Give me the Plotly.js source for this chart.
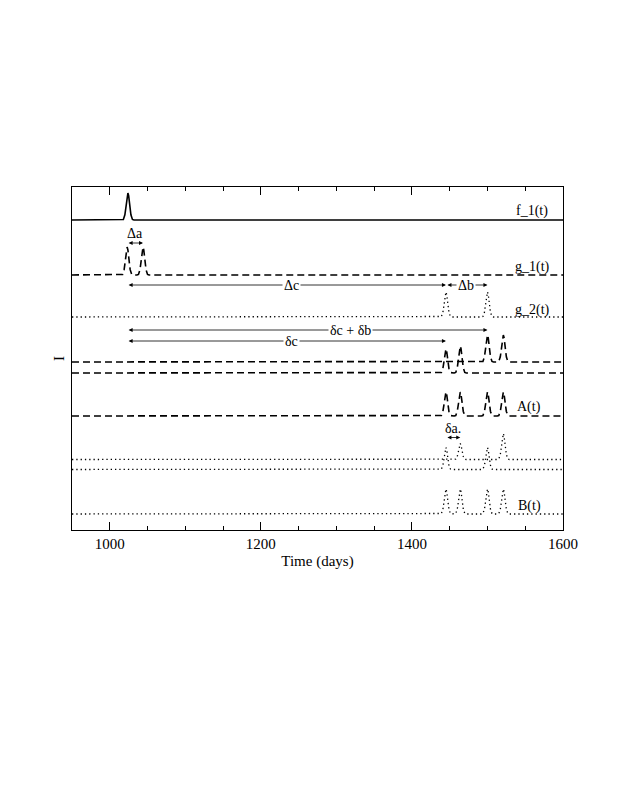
<!DOCTYPE html>
<html>
<head>
<meta charset="utf-8">
<script src="https://cdn.plot.ly/plotly-3.0.1.min.js"></script>
<style>
  body { margin: 0; background: #fff; }
  #plt { width: 627px; height: 811px; }
</style>
</head>
<body>
<div id="plt"></div>
<script>
// curves, top to bottom (y is an arbitrary stacked intensity)
var curveNames = ['f_1(t)', 'g_1(t)', 'g_2(t)', 'g_1 shifted (dc+db)', 'g_1 shifted (dc)', 'A(t)', 'B part 1', 'B part 2', 'B(t)'];
var baselines = [31.0, 25.5, 21.3, 16.8, 15.7, 11.4, 7.05, 6.05, 1.6];
var peakTimes = [[1024], [1023, 1044], [1445, 1500], [1500, 1521], [1445, 1464],
                 [1445, 1464, 1500, 1521], [1464, 1521], [1445, 1500], [1445, 1464, 1500, 1521]];
var peakHeights = [[2.7], [2.8, 2.8], [2.5, 2.5], [2.7, 2.7], [2.4, 2.7],
                   [2.4, 2.4, 2.4, 2.4], [1.6, 2.6], [2.2, 2.2], [2.5, 2.5, 2.5, 2.5]];
var lineStyles = ['solid', 'dash', 'dot', 'dash', 'dash', 'dash', 'dot', 'dot', 'dot'];

// shape of a single pulse (days from centre, fraction of height)
var pulseDx = [-8, -6, -4, -3, -2, -1, 0, 1, 2, 3, 4, 6, 8];
var pulseShape = [0, 0.02, 0.19, 0.39, 0.66, 0.9, 1, 0.9, 0.66, 0.39, 0.19, 0.02, 0];

var tStart = 950, tEnd = 1600;

// curve labels on the right
var labelText = ['f_1(t)', 'g_1(t)', 'g_2(t)', 'A(t)', 'B(t)'];
var labelT = [1559, 1559, 1559, 1555, 1555];
var labelY = [31.9, 26.3, 22.0, 12.3, 2.4];

// delay arrows: from, to, height, label, label position, label background
var arrowFrom = [1023, 1023, 1445, 1023, 1023, 1445];
var arrowTo = [1044, 1445, 1500, 1500, 1445, 1464];
var arrowY = [28.7, 24.5, 24.5, 20.0, 18.9, 9.25];
var arrowText = ['\u0394a', '\u0394c', '\u0394b', '\u03b4c + \u03b4b', '\u03b4c', '\u03b4a.'];
var arrowTextT = [1034, 1241, 1472, 1319, 1241, 1455];
var arrowTextY = [29.65, 24.5, 24.5, 20.0, 18.9, 10.2];
var arrowTextBg = [false, true, true, true, true, false];

var dashMap = {solid: 'solid', dash: '7px,4px', dot: '1.3px,3px'};

var data = [];
for (var i = 0; i < curveNames.length; i++) {
    var xs = [tStart], ys = [baselines[i]];
    for (var p = 0; p < peakTimes[i].length; p++) {
        for (var k = 0; k < pulseDx.length; k++) {
            xs.push(peakTimes[i][p] + pulseDx[k]);
            ys.push(baselines[i] + peakHeights[i][p] * pulseShape[k]);
        }
    }
    xs.push(tEnd);
    ys.push(baselines[i]);
    data.push({
        x: xs, y: ys, type: 'scatter', mode: 'lines', name: curveNames[i],
        xaxis: i === 0 ? 'x2' : 'x',   // top curve sits on the top axis so its ticks get drawn
        line: {color: '#000', width: lineStyles[i] === 'dot' ? 1.3 : 1.6, dash: dashMap[lineStyles[i]]},
        hoverinfo: 'skip'
    });
}

var annotations = [];
for (i = 0; i < labelText.length; i++) {
    annotations.push({
        x: labelT[i], y: labelY[i], xref: 'x', yref: 'y', text: labelText[i],
        showarrow: false, font: {size: 14, color: '#000'}
    });
}
for (i = 0; i < arrowFrom.length; i++) {
    annotations.push({
        x: arrowTo[i], y: arrowY[i], ax: arrowFrom[i], ay: arrowY[i],
        xref: 'x', yref: 'y', axref: 'x', ayref: 'y', text: '',
        showarrow: true, arrowside: 'end+start', arrowhead: 2, arrowsize: 1,
        arrowwidth: 0.8, arrowcolor: '#000', standoff: 0, startstandoff: 0
    });
}
for (i = 0; i < arrowText.length; i++) {
    annotations.push({
        x: arrowTextT[i], y: arrowTextY[i], xref: 'x', yref: 'y', text: arrowText[i],
        showarrow: false, bgcolor: arrowTextBg[i] ? '#fff' : 'rgba(0,0,0,0)',
        borderpad: arrowTextBg[i] ? 1 : 0,
        font: {size: 14, color: '#000'}
    });
}

var tickStyle = {
    range: [tStart, tEnd], tickvals: [1000, 1200, 1400, 1600],
    ticks: 'inside', ticklen: 8, tickwidth: 1, tickcolor: '#000',
    minor: {dtick: 50, tick0: 0, ticks: 'inside', ticklen: 4, tickwidth: 1, tickcolor: '#000'},
    showline: true, linecolor: '#000', linewidth: 1.2,
    showgrid: false, zeroline: false
};

var layout = {
    width: 627, height: 811,
    margin: {l: 72, r: 64, t: 187, b: 281},
    paper_bgcolor: '#fff', plot_bgcolor: '#fff',
    showlegend: false,
    font: {family: '"Liberation Serif", "Times New Roman", serif', size: 14, color: '#000'},
    xaxis: Object.assign({}, tickStyle, {
        mirror: true,
        tickfont: {size: 15},
        title: {text: 'Time (days)', font: {size: 15}, standoff: 4}
    }),
    xaxis2: Object.assign({}, tickStyle, {
        overlaying: 'x', side: 'top', showticklabels: false
    }),
    yaxis: {
        range: [0, 34.3], showticklabels: false, ticks: '',
        showline: true, linecolor: '#000', linewidth: 1.2, mirror: true,
        showgrid: false, zeroline: false,
        title: {text: 'I', font: {size: 15}, standoff: 2}
    },
    annotations: annotations
};

Plotly.newPlot('plt', data, layout, {staticPlot: true});
</script>
</body>
</html>
